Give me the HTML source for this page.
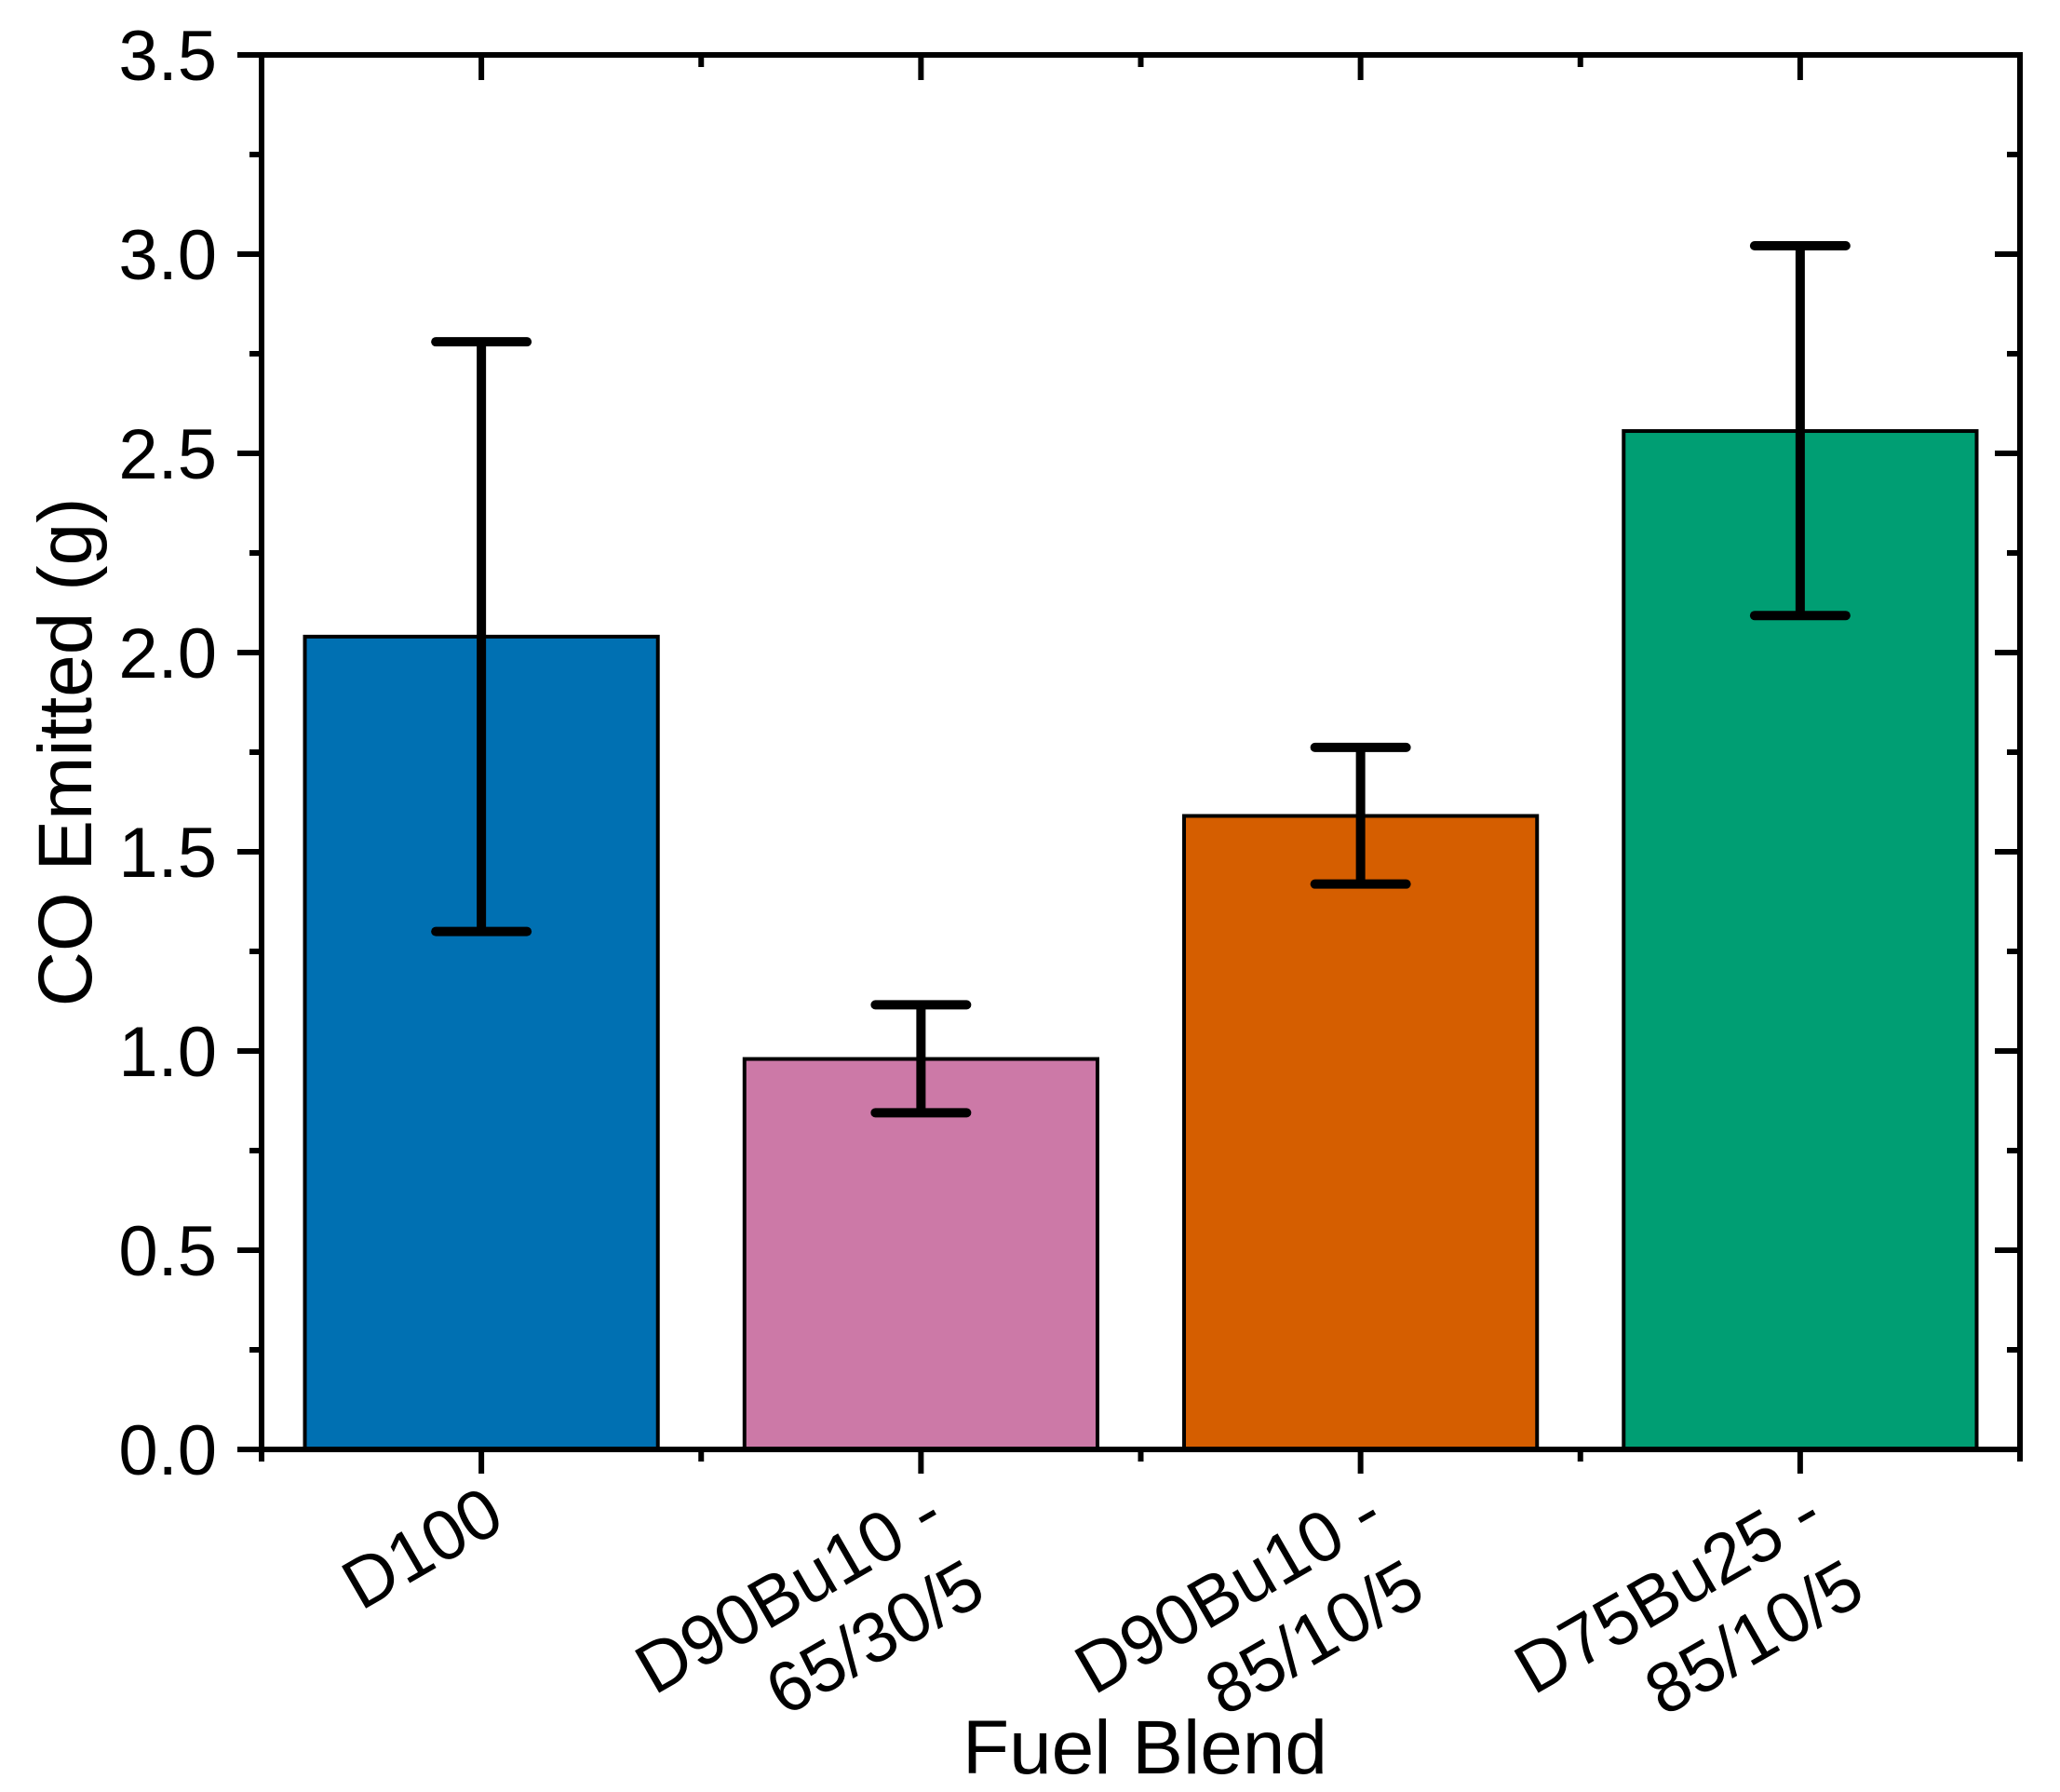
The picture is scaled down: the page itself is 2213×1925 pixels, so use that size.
<!DOCTYPE html>
<html><head><meta charset="utf-8"><style>
html,body{margin:0;padding:0;background:#fff;}
svg{display:block;font-family:"Liberation Sans",Arial,sans-serif;}
</style></head><body>
<svg id="chart" width="2213" height="1925" viewBox="0 0 2213 1925" xmlns="http://www.w3.org/2000/svg">
<rect width="2213" height="1925" fill="#fff"/>
<g id="bars"></g>
<g id="errs"></g>
<g id="axes"></g>
<text x="0" y="0" font-size="82" text-anchor="middle" transform="translate(98,808) rotate(-90)">CO Emitted (g)</text>
<text x="1230" y="1905" font-size="82" text-anchor="middle">Fuel Blend</text>
</svg>
<script>
const categories = [["D100"],["D90Bu10 -","65/30/5"],["D90Bu10 -","85/10/5"],["D75Bu25 -","85/10/5"]];
const values = [2.04, 0.98, 1.59, 2.556];
const errUpper = [2.78, 1.116, 1.762, 3.021];
const errLower = [1.30, 0.845, 1.419, 2.093];
const colors = ["#0070b2","#cc79a7","#d55e00","#009e73"];
const yTicks = ["0.0","0.5","1.0","1.5","2.0","2.5","3.0","3.5"];

const L=281,R=2170,T=59,B=1557,YMAX=3.5;
const NS="http://www.w3.org/2000/svg";
const n=categories.length;
const band=(R-L)/n;
const xc=i=>L+band*(i+0.5);
const y=v=>B-(v/YMAX)*(B-T);
function mk(tag,attrs,parent){const e=document.createElementNS(NS,tag);for(const k in attrs)e.setAttribute(k,attrs[k]);parent.appendChild(e);return e;}
const gB=document.getElementById('bars'),gE=document.getElementById('errs'),gA=document.getElementById('axes');
const bw=band*0.803;
values.forEach((v,i)=>{
  const r=mk('rect',{x:xc(i)-bw/2,y:y(v),width:bw,height:B-y(v),fill:colors[i],stroke:'#000','stroke-width':4},gB);
  
  
  const g=mk('g',{stroke:'#000','stroke-width':10,'stroke-linecap':'round'},gE);
  
  
  mk('line',{x1:xc(i),x2:xc(i),y1:y(errUpper[i]),y2:y(errLower[i]),'stroke-linecap':'butt'},g);
  mk('line',{x1:xc(i)-49,x2:xc(i)+49,y1:y(errUpper[i]),y2:y(errUpper[i])},g);
  mk('line',{x1:xc(i)-49,x2:xc(i)+49,y1:y(errLower[i]),y2:y(errLower[i])},g);
});
const frame=mk('rect',{x:L,y:T,width:R-L,height:B-T,fill:'none',stroke:'#000','stroke-width':6},gA);


const tk={stroke:'#000','stroke-width':6};
yTicks.forEach((lab,i)=>{
  const v=parseFloat(lab),yy=y(v);
  mk('line',Object.assign({x1:L-26,x2:L,y1:yy,y2:yy},tk),gA);
  mk('line',Object.assign({x1:R-27,x2:R,y1:yy,y2:yy},tk),gA);
  const t=mk('text',{x:233,y:yy+27,'font-size':76,'text-anchor':'end'},gA);
  t.textContent=lab;
  
  
  if(i<yTicks.length-1){const ym=y(v+0.25);
    mk('line',Object.assign({x1:L-13,x2:L,y1:ym,y2:ym},tk),gA);
    mk('line',Object.assign({x1:R-14,x2:R,y1:ym,y2:ym},tk),gA);}
});
for(let i=0;i<=n;i++){const xb=L+band*i;
  mk('line',Object.assign({x1:xb,x2:xb,y1:B,y2:B+13},tk),gA);
  mk('line',Object.assign({x1:xb,x2:xb,y1:T,y2:T+13},tk),gA);}
categories.forEach((lines,i)=>{
  const x=xc(i);
  mk('line',Object.assign({x1:x,x2:x,y1:B,y2:B+26},tk),gA);
  mk('line',Object.assign({x1:x,x2:x,y1:T,y2:T+27},tk),gA);
  const t=mk('text',{'font-size':76,'text-anchor':'end',transform:`translate(${x+28},${1640}) rotate(-30)`},gA);
  
  
  lines.forEach((ln,j)=>{const s=mk('tspan',{x:0,y:j*90},t);s.textContent=ln;});
});
</script>
</body></html>
